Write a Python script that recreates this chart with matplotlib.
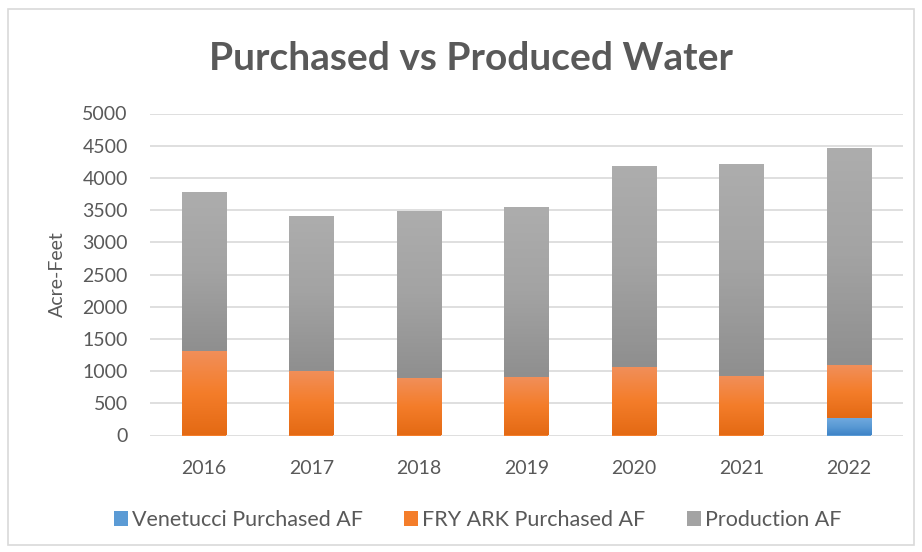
import matplotlib.pyplot as plt
import numpy as np
from matplotlib.colors import LinearSegmentedColormap
from matplotlib.patches import Rectangle

years = ['2016', '2017', '2018', '2019', '2020', '2021', '2022']
venetucci = [0, 0, 0, 0, 0, 0, 270]
fry_ark = [1306, 995, 886, 902, 1058, 918, 819]
production = [2473, 2411, 2598, 2644, 3126, 3297, 3375]

# top colour, mid, bottom colour for each series (Excel-like gradient)
grads = {
    'Venetucci Purchased AF': ['#72aadf', '#5b9bd5', '#3f84c8'],
    'FRY ARK Purchased AF': ['#f18f5a', '#f47d2a', '#e46a14'],
    'Production AF': ['#adadad', '#a3a3a3', '#8f8f8f'],
}
txt = '#595959'
plt.rcParams['font.family'] = ['Lato', 'DejaVu Sans']

fig = plt.figure(figsize=(9.22, 5.52), dpi=100)
fig.patches.append(Rectangle((8 / 922, 7 / 552), 906 / 922, 536 / 552,
                             transform=fig.transFigure, fill=False,
                             edgecolor='#d9d9d9', lw=1.2))
ax = fig.add_axes([150 / 922, (552 - 435.5) / 552, 752.5 / 922, 322 / 552])

x = np.arange(len(years))
w = 0.41
bottom = np.zeros(len(years))
handles = []
for name, vals in zip(grads, [venetucci, fry_ark, production]):
    vals = np.array(vals, dtype=float)
    bars = ax.bar(x, vals, w, bottom=bottom, color=grads[name][1], label=name, zorder=3)
    cmap = LinearSegmentedColormap.from_list(name, grads[name][::-1])
    grad = np.linspace(0, 1, 64).reshape(-1, 1)
    for b in bars:
        if b.get_height() <= 0:
            continue
        bx, by = b.get_x(), b.get_y()
        im = ax.imshow(grad, cmap=cmap, origin='lower', aspect='auto', zorder=4,
                       extent=[bx, bx + b.get_width(), by, by + b.get_height()])
        im.set_clip_path(b)
    handles.append(bars)
    bottom += vals

ax.set_xlim(-0.5, len(years) - 0.5)
ax.set_ylim(0, 5000)
ax.set_yticks(np.arange(0, 5001, 500))
ax.set_xticks(x)
ax.set_xticklabels(years)
ax.grid(axis='y', color='#d9d9d9', lw=1.2, zorder=0)
for s in ax.spines.values():
    s.set_visible(False)
ax.tick_params(length=0, labelsize=14, labelcolor=txt)
ax.tick_params(axis='x', pad=18)
ax.tick_params(axis='y', pad=16)
ax.set_ylabel('Acre-Feet', fontsize=14, color=txt, labelpad=12)

fig.text(0.511, 1 - 58 / 552, 'Purchased vs Produced Water', ha='center', va='center',
         fontsize=28, fontweight='bold', color=txt)

leg = fig.legend(handles=handles, loc='center', bbox_to_anchor=(0.518, 1 - 520 / 552),
                 ncol=3, frameon=False, fontsize=15.5, handlelength=0.65, handleheight=0.65,
                 handletextpad=0.2, columnspacing=1.9)
for t in leg.get_texts():
    t.set_color(txt)

fig.savefig('out.png', dpi=100)
